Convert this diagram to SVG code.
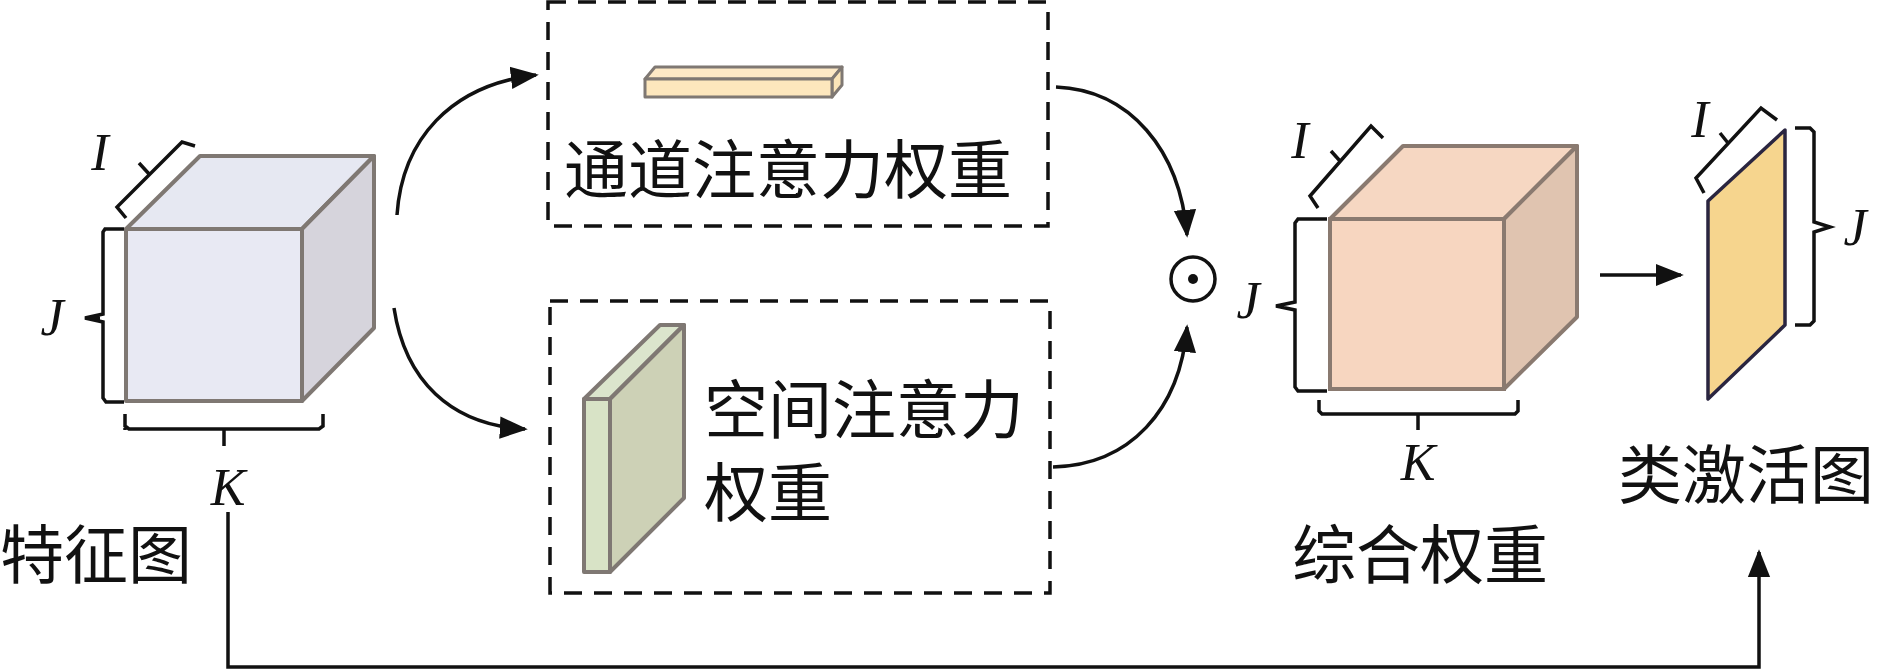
<svg xmlns="http://www.w3.org/2000/svg" width="1880" height="671" viewBox="0 0 1880 671">
<defs>
<marker id="ah" viewBox="0 0 10 10" refX="9" refY="5" markerWidth="8" markerHeight="8" markerUnits="userSpaceOnUse" orient="auto"><path d="M0,0L10,5L0,10z" fill="#111"/></marker>
<marker id="ah2" viewBox="0 0 10 10" refX="9" refY="5" markerWidth="28" markerHeight="28" markerUnits="userSpaceOnUse" orient="auto"><path d="M0,1L10,5L0,9z" fill="#111"/></marker>
</defs>
<style>
.cn{font-family:"Liberation Serif","Noto Sans CJK SC",serif;font-size:64px;fill:#111}
.it{font-family:"Liberation Serif",serif;font-style:italic;font-size:52px;fill:#111}
.br{fill:none;stroke:#111;stroke-width:3.5}
.con{fill:none;stroke:#111;stroke-width:3.5}
.box{fill:none;stroke:#111;stroke-width:3.5;stroke-dasharray:18 12}
.s1{stroke:#7f7873;stroke-width:4;stroke-linejoin:round}
</style>
<rect width="1880" height="671" fill="#fff"/>
<g id="feature-map">
<polygon class="s1" points="126,229 200,156 374,156 302,229" fill="#e6e8f2"/>
<polygon class="s1" points="302,229 374,156 374,328 302,401" fill="#d6d4dc"/>
<rect class="s1" x="126" y="229" width="176" height="172" fill="#e8e9f3"/>
<path class="br" d="M126,218 L117,207 L182,142 L195,146 M150,175 L139,163"/>
<path class="br" d="M124,229 L105,229 L103,232 L103,314 L85,318 L103,322 L103,398 L106,402 L124,402 M85,318 L100,318"/>
<path class="br" d="M125,430 L125,428 M125,324 M125,324 M125,324"/>
<path class="br" d="M125,322 L125,324 M124,323 L124,429 L323,429 L323,323" style="display:none"/>
<path class="br" d="M125,323 L125,426 L128,429 L320,429 L323,426 L323,323" transform="translate(0,0) scale(1,1)" style="display:none"/>
<path class="br" d="M125,323 L125,402" style="display:none"/>
<path class="br" d="M125,323 L125,323 M125,323 L125,323"/>
<path class="br" d="M125,323 L125,323 M125,323"/>
<path class="br" d="M125,323 L125,323"/>
<text class="it" x="100" y="170" text-anchor="middle">I</text>
<text class="it" x="52" y="335" text-anchor="middle">J</text>
<text class="it" x="228" y="505" text-anchor="middle">K</text>
<text class="cn" x="0" y="578">特征图</text>
</g>
<g id="k-bracket-left">
<path class="br" d="M125,414 L125,426 L129,429 L319,429 L323,426 L323,414 M224,429 L224,446"/>
</g>
<g id="channel-attention">
<rect class="box" x="548" y="2" width="500" height="224"/>
<polygon class="s1" points="645,79 655,67 842,67 832,79" fill="#fde9c6" style="stroke-width:3"/>
<polygon class="s1" points="832,79 842,67 842,85 832,97" fill="#fbe5b9" style="stroke-width:3"/>
<rect class="s1" x="645" y="79" width="187" height="18" fill="#fde7bd" style="stroke-width:3"/>
<text class="cn" x="564" y="193">通道注意力权重</text>
</g>
<g id="spatial-attention">
<rect class="box" x="550" y="301" width="500" height="292"/>
<polygon class="s1" points="584,399 660,325 684,325 610,399" fill="#dbe5cc"/>
<polygon class="s1" points="610,399 684,325 684,498 610,572" fill="#cdd1b6"/>
<rect class="s1" x="584" y="399" width="26" height="173" fill="#d8e3c6"/>
<text class="cn" x="704" y="433">空间注意力</text>
<text class="cn" x="704" y="516">权重</text>
</g>
<g id="odot">
<circle cx="1193" cy="279" r="22" fill="none" stroke="#111" stroke-width="3.5"/>
<circle cx="1193" cy="279" r="5" fill="#111"/>
</g>
<g id="combined-weight">
<polygon points="1330,219 1403,146 1577,146 1504,219" fill="#f6d7c2" stroke="#8a7a70" stroke-width="4" stroke-linejoin="round"/>
<polygon points="1504,219 1577,146 1577,317 1504,389" fill="#e0c4b0" stroke="#8a7a70" stroke-width="4" stroke-linejoin="round"/>
<rect x="1330" y="219" width="174" height="170" fill="#f7d6c0" stroke="#8a7a70" stroke-width="4"/>
<path class="br" d="M1318,208 L1310,196 L1371,126 L1383,138 M1340,161 L1331,151"/>
<path class="br" d="M1327,219 L1298,219 L1295,223 L1295,302 L1276,306 L1295,310 L1295,387 L1298,391 L1327,391"/>
<path class="br" d="M1319,400 L1319,411 L1322,414 L1515,414 L1518,411 L1518,400 M1418,414 L1418,430"/>
<text class="it" x="1300" y="158" text-anchor="middle">I</text>
<text class="it" x="1248" y="318" text-anchor="middle">J</text>
<text class="it" x="1418" y="480" text-anchor="middle">K</text>
<text class="cn" x="1292" y="578">综合权重</text>
</g>
<g id="cam">
<polygon points="1708,201 1785,130 1785,325 1708,399" fill="#f6d58e" stroke="#2a2540" stroke-width="3.5" stroke-linejoin="round"/>
<path class="br" d="M1704,193 L1696,178 L1761,108 L1777,120 M1728,143 L1720,133"/>
<path class="br" d="M1795,128 L1810,128 L1814,132 L1814,222 L1830,227 L1814,232 L1814,321 L1810,325 L1795,325"/>
<text class="it" x="1700" y="137" text-anchor="middle">I</text>
<text class="it" x="1855" y="245" text-anchor="middle">J</text>
<text class="cn" x="1618" y="498">类激活图</text>
</g>
<g id="connectors">
<path class="con" marker-end="url(#ah2)" d="M397,215 C402,140 450,85 536,75"/>
<path class="con" marker-end="url(#ah2)" d="M394,308 C405,380 450,425 525,429"/>
<path class="con" marker-end="url(#ah2)" d="M1056,87 C1130,90 1180,150 1187,235"/>
<path class="con" marker-end="url(#ah2)" d="M1053,467 C1130,465 1180,410 1187,327"/>
<path class="con" marker-end="url(#ah2)" d="M1600,275 L1681,275"/>
<path class="con" marker-end="url(#ah2)" d="M228,512 L228,667 L1759,667 L1759,552"/>
</g>
</svg>
